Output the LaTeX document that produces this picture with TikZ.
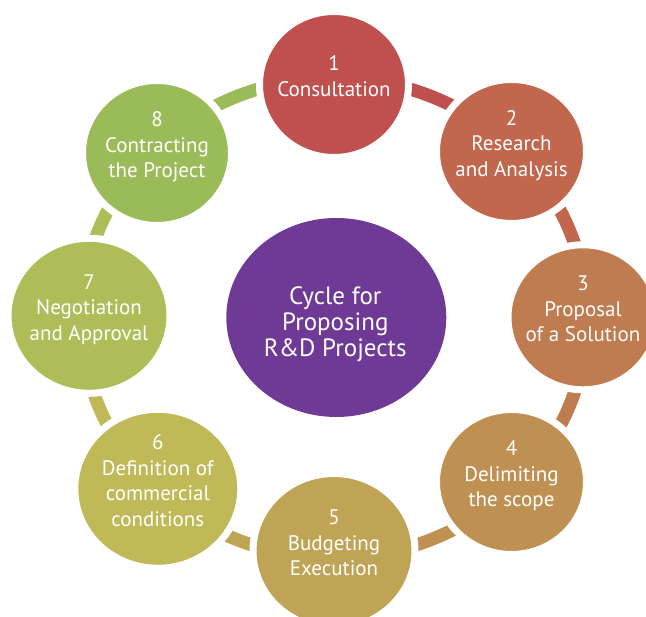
\documentclass[tikz,border=0pt]{standalone}
\usepackage{fontspec}
\setmainfont{PT Sans}
\usetikzlibrary{shapes.geometric}
\pgfdeclarelayer{bg}
\pgfsetlayers{bg,main}
\definecolor{c1}{HTML}{C0504D}
\definecolor{c2}{HTML}{C0674E}
\definecolor{c3}{HTML}{BF7C50}
\definecolor{c4}{HTML}{BE9152}
\definecolor{c5}{HTML}{BFA456}
\definecolor{c6}{HTML}{BFB958}
\definecolor{c7}{HTML}{AFBD59}
\definecolor{c8}{HTML}{9BBB59}
\definecolor{cc}{HTML}{6F3A96}
\begin{document}
\begin{tikzpicture}[x=1pt,y=1pt,
  bub/.style={ellipse, fill=#1, draw=white, line width=7pt, inner sep=0pt},
  hub/.style={ellipse, fill=cc, inner sep=0pt},
  hubtext/.style={text=white, align=center, inner sep=0pt,
    font=\fontsize{25}{26}\selectfont},
  conn/.style={draw=#1, line width=13pt},
  lbl/.style={text=white, align=center, inner sep=0pt,
    font=\fontsize{21}{25.5}\selectfont},
]
\useasboundingbox (0,0) rectangle (646,617);
\clip (0,0) rectangle (646,617);

% circles
\node[bub=c1, minimum width=149, minimum height=146] (n1) at (334,532.5) {};
\node[bub=c2, minimum width=150, minimum height=144] (n2) at (511.5,465.5) {};
\node[bub=c3, minimum width=150, minimum height=145] (n3) at (583,299.7) {};
\node[bub=c4, minimum width=150, minimum height=145] (n4) at (511.5,135) {};
\node[bub=c5, minimum width=162, minimum height=155] (n5) at (334,66) {};
\node[bub=c6, minimum width=166, minimum height=159] (n6) at (157.8,128.2) {};
\node[bub=c7, minimum width=162, minimum height=155] (n7) at (89,301.2) {};
\node[bub=c8, minimum width=149, minimum height=145] (n8) at (157,464) {};
\node[hub, minimum width=220, minimum height=199] (hub) at (336.3,299.5) {};
\node[hubtext] (t0) at ([xshift=-1,yshift=-8]hub.center)
  {\strut Cycle for\\\strut Proposing\\\strut R\&D Projects};

% labels
\node[lbl] (t1) at ([yshift=6]n1.center) {\strut 1\\\strut Consultation};
\node[lbl] (t2) at ([yshift=6]n2.center) {\strut 2\\\strut Research\\\strut and Analysis};
\node[lbl] (t3) at ([yshift=6]n3.center) {\strut 3\\\strut Proposal\\\strut of a Solution};
\node[lbl] (t4) at ([yshift=6]n4.center) {\strut 4\\\strut Delimiting\\\strut the scope};
\node[lbl] (t5) at ([yshift=6]n5.center) {\strut 5\\\strut Budgeting\\\strut Execution};
\node[lbl] (t6) at ([yshift=6]n6.center) {\strut 6\\\strut Definition of\\\strut commercial\\\strut conditions};
\node[lbl] (t7) at ([yshift=6]n7.center) {\strut 7\\\strut Negotiation\\\strut and Approval};
\node[lbl] (t8) at ([yshift=6]n8.center) {\strut 8\\\strut Contracting\\\strut the Project};

% connectors
\begin{pgfonlayer}{bg}
\draw[conn=c1] (n1.center) ++(0,6.5)   arc[start angle=90,   end angle=45,   x radius=253, y radius=240];
\draw[conn=c2] (n2.center) ++(1.4,3.2) arc[start angle=45,   end angle=0,    x radius=253, y radius=240];
\draw[conn=c3] (n3.center) ++(4,-0.7)  arc[start angle=0,    end angle=-45,  x radius=253, y radius=240];
\draw[conn=c4] (n4.center) ++(1.4,-5.7) arc[start angle=-45, end angle=-90,  x radius=253, y radius=240];
\draw[conn=c5] (n5.center) ++(0,-7)    arc[start angle=-90,  end angle=-135, x radius=253, y radius=240];
\draw[conn=c6] (n6.center) ++(-2.7,1.1) arc[start angle=-135, end angle=-180, x radius=253, y radius=240];
\draw[conn=c7] (n7.center) ++(-8,-2.2) arc[start angle=180,  end angle=135,  x radius=253, y radius=240];
\draw[conn=c8] (n8.center) ++(-1.9,4.7) arc[start angle=135, end angle=90,   x radius=253, y radius=240];
\end{pgfonlayer}
\end{tikzpicture}
\end{document}
